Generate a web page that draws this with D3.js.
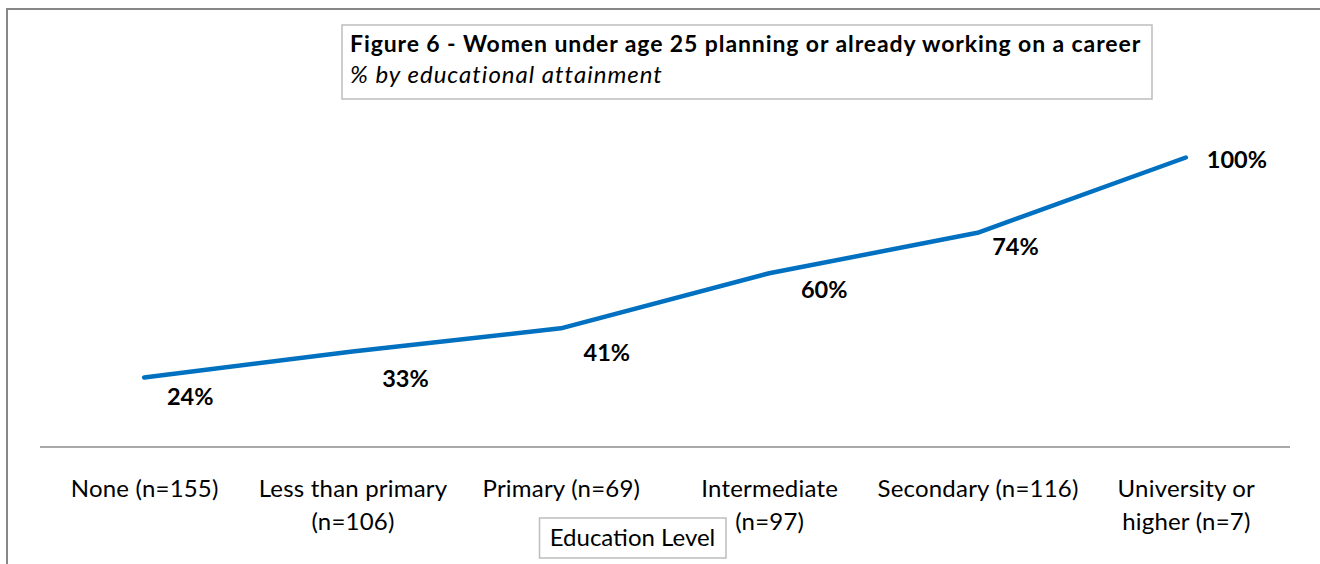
<!DOCTYPE html>
<html>
<head>
<meta charset="utf-8">
<script src="https://cdn.jsdelivr.net/npm/d3@7"></script>
<style>
  html, body { margin: 0; padding: 0; background: #fff; }
  svg { display: block; font-family: Lato, "Open Sans", sans-serif; }
</style>
</head>
<body>
<svg id="chart" width="1320" height="564"></svg>
<script>
// ---- data ----
const categories = [
  "None (n=155)",
  "Less than primary (n=106)",
  "Primary (n=69)",
  "Intermediate (n=97)",
  "Secondary (n=116)",
  "University or higher (n=7)"
];
// label line breaks as shown in the chart
const categoryLines = [
  ["None (n=155)"],
  ["Less than primary", "(n=106)"],
  ["Primary (n=69)"],
  ["Intermediate", "(n=97)"],
  ["Secondary (n=116)"],
  ["University or", "higher (n=7)"]
];
const values = [24, 33, 41, 60, 74, 100];
const titleText = "Figure 6 - Women under age 25 planning or already working on a career";
const subtitleText = "% by educational attainment";
const axisTitle = "Education Level";

// ---- layout (not data) ----
const labelNudge = [[46, 19], [53, 27], [46, 24], [55, 16], [38, 14], [51, 2]];

const svg = d3.select("#chart");
svg.append("rect").attr("width", 1320).attr("height", 564).attr("fill", "#fff");

// outer frame (left + top)
svg.append("path")
  .attr("d", "M7,564 V9 H1320")
  .attr("fill", "none").attr("stroke", "#878787").attr("stroke-width", 2);

const x = d3.scalePoint().domain(categories).range([40, 1290]).padding(0.5);
const y = d3.scaleLinear().domain([0, 100]).range([447, 157.5]);

// x axis
const xAxis = svg.append("g")
  .attr("transform", `translate(0,${y(0)})`)
  .call(d3.axisBottom(x).tickSize(0).tickSizeOuter(0).tickPadding(0));
xAxis.select(".domain").attr("stroke", "#8c8c8c").attr("stroke-width", 1.5)
  .attr("d", `M40,0H1290`);
xAxis.selectAll(".tick text").each(function(d, i) {
  const t = d3.select(this);
  t.text(null).attr("y", 0).attr("dy", null)
    .attr("fill", "#000").attr("font-size", 24).attr("letter-spacing", 0.2)
    .attr("font-family", "Lato, sans-serif");
  categoryLines[i].forEach((ln, j) => {
    t.append("tspan").attr("x", 0).attr("y", 50 + j * 33).text(ln);
  });
});

// line
const line = d3.line().x((d, i) => x(categories[i])).y(d => y(d));
svg.append("path")
  .datum(values)
  .attr("d", line)
  .attr("fill", "none")
  .attr("stroke", "#0070C0")
  .attr("stroke-width", 4.5)
  .attr("stroke-linejoin", "round")
  .attr("stroke-linecap", "round");

// data labels
svg.append("g").selectAll("text")
  .data(values)
  .join("text")
  .attr("x", (d, i) => x(categories[i]) + labelNudge[i][0])
  .attr("y", (d, i) => y(d) + labelNudge[i][1])
  .attr("dy", "0.36em")
  .attr("text-anchor", "middle")
  .attr("font-weight", "bold")
  .attr("font-size", 23.5)
  .attr("fill", "#000")
  .text(d => d + "%");

// title box
svg.append("rect")
  .attr("x", 342).attr("y", 25).attr("width", 810).attr("height", 74)
  .attr("fill", "#fff").attr("stroke", "#bdbdbd").attr("stroke-width", 1.5);
svg.append("text")
  .attr("x", 350).attr("y", 52)
  .attr("font-weight", "bold").attr("font-size", 23).attr("letter-spacing", 0.9)
  .attr("fill", "#000")
  .text(titleText);
svg.append("text")
  .attr("x", 350).attr("y", 83)
  .attr("font-style", "italic").attr("font-size", 24).attr("letter-spacing", 1.0)
  .attr("fill", "#000")
  .text(subtitleText);

// axis title box
svg.append("rect")
  .attr("x", 539.5).attr("y", 518).attr("width", 186.5).attr("height", 40)
  .attr("fill", "#fff").attr("stroke", "#bdbdbd").attr("stroke-width", 1.5);
svg.append("text")
  .attr("x", 632.5).attr("y", 546)
  .attr("text-anchor", "middle").attr("font-size", 24).attr("fill", "#000")
  .text(axisTitle);
</script>
</body>
</html>
